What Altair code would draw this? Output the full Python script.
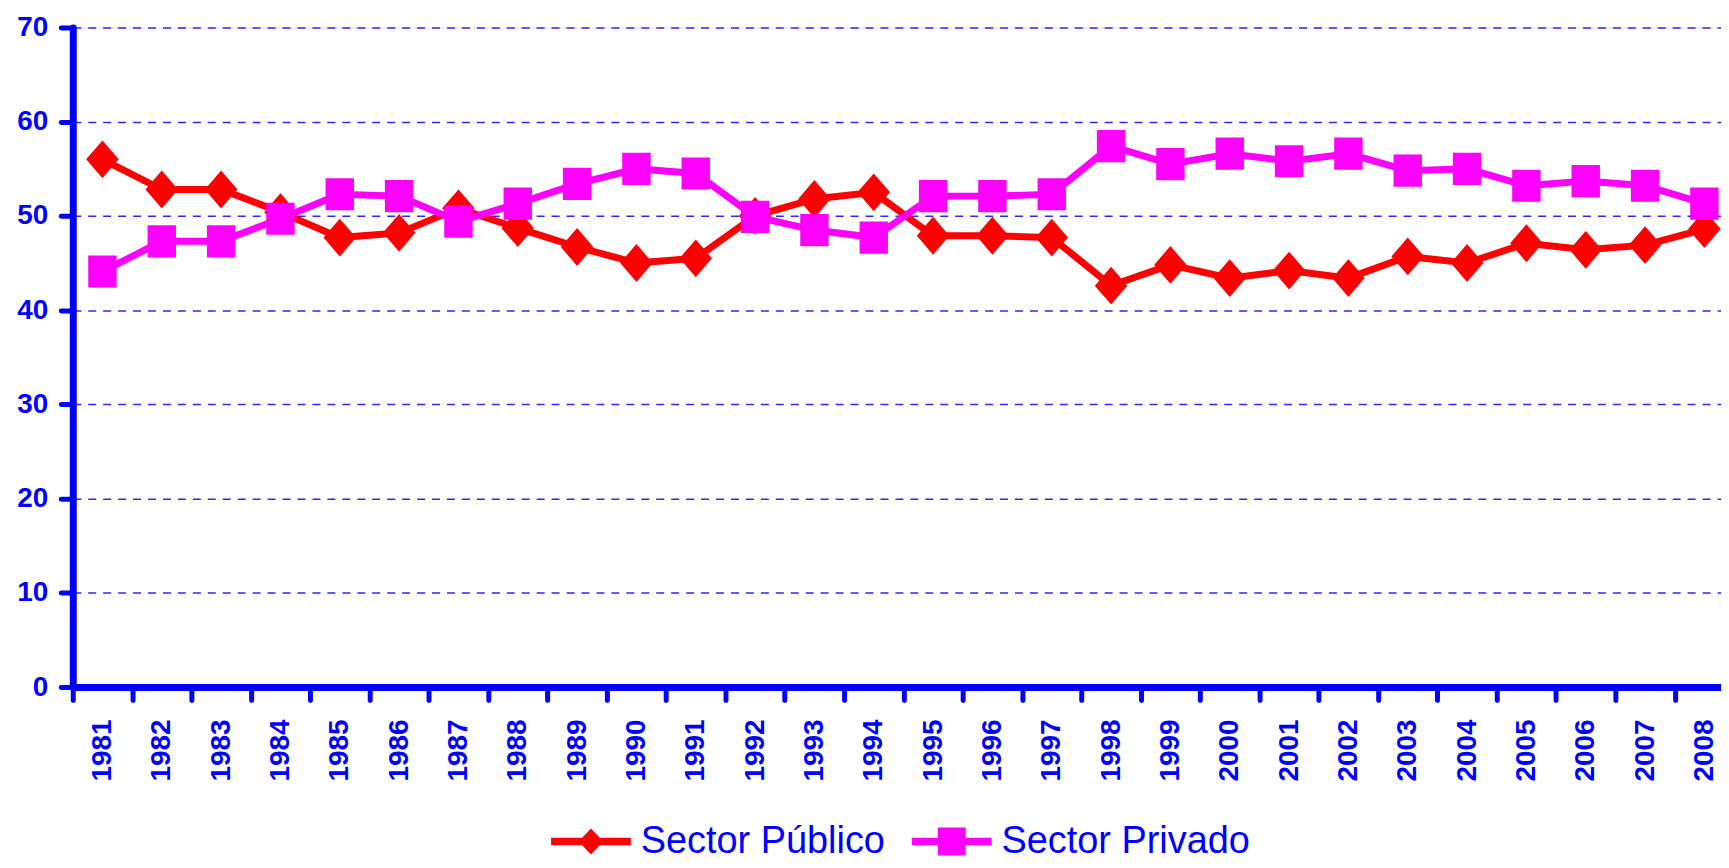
import altair as alt
import pandas as pd

years = list(range(1981, 2009))
publico = [56.0, 52.8, 52.8, 50.4, 47.7, 48.2, 50.8, 48.7, 46.7, 45.0,
           45.5, 50.0, 51.8, 52.5, 47.9, 47.9, 47.7, 42.6, 44.8, 43.4,
           44.2, 43.4, 45.7, 45.0, 47.1, 46.4, 46.9, 48.6]
privado = [44.1, 47.3, 47.3, 49.7, 52.3, 52.1, 49.4, 51.3, 53.4, 55.0,
           54.5, 49.9, 48.5, 47.7, 52.1, 52.1, 52.3, 57.4, 55.5, 56.6,
           55.8, 56.6, 54.8, 55.0, 53.2, 53.7, 53.2, 51.3]
series_names = ["Sector Público", "Sector Privado"]
series_colors = ["#FF0000", "#FF00FF"]
y_ticks = [0, 10, 20, 30, 40, 50, 60, 70]

BLUE = "#0000FF"
W = 1654
H = 662
x_min, x_max = 1980.5, 2008.28
step = W / (x_max - x_min)

diamond = "M0,-1L0.86,0L0,1L-0.86,0Z"
square = "M-0.75,-0.85H0.75V0.85H-0.75Z"
leg_diamond = "M-1,-0.095H-0.22L0,-0.325L0.22,-0.095H1V0.095H0.22L0,0.325L-0.22,0.095H-1Z"
leg_square = "M-1,-0.095H-0.35V-0.35H0.35V-0.095H1V0.095H0.35V0.35H-0.35V0.095H-1Z"

x_enc = alt.X(
    "Año:Q",
    scale=alt.Scale(domain=[x_min, x_max], nice=False, zero=False),
    axis=alt.Axis(
        title=None,
        values=years,
        format="d",
        grid=False,
        tickOffset=-step / 2,
        labelOffset=step / 2,
        labelAngle=-90,
        labelFont="Liberation Sans",
        labelFontWeight="bold",
        labelFontSize=28,
        labelColor=BLUE,
        labelPadding=19,
        labelOverlap=False,
        labelFlush=False,
        tickSize=13,
        tickWidth=5,
        tickColor=BLUE,
        tickCap="round",
        domainColor=BLUE,
        domainWidth=7,
        domainCap="round",
    ),
)
y_enc = alt.Y(
    "Valor:Q",
    scale=alt.Scale(domain=[0, 70], nice=False),
    axis=alt.Axis(
        title=None,
        values=y_ticks,
        grid=True,
        gridColor="#2A2AFF",
        gridWidth=1.5,
        gridDash=[8, 7],
        labelFont="Liberation Sans",
        labelFontWeight="bold",
        labelFontSize=28,
        labelColor=BLUE,
        labelPadding=13,
        tickSize=12,
        tickWidth=5,
        tickColor=BLUE,
        tickCap="round",
        domainColor=BLUE,
        domainWidth=7,
        domainCap="round",
    ),
)


def series_layers(name, values, col, shape, leg_shape, leg_x):
    d = pd.DataFrame({"Año": years, "Valor": values, "Serie": [name] * len(years)})
    legend = alt.Legend(
        title=None,
        orient="none",
        legendX=leg_x,
        legendY=777,
        direction="horizontal",
        symbolType=leg_shape,
        symbolSize=6400,
        symbolFillColor=col,
        symbolStrokeWidth=0,
        symbolOpacity=1,
        labelFont="Liberation Sans",
        labelFontSize=38,
        labelColor=BLUE,
        labelOffset=10,
        labelLimit=500,
        padding=0,
    )
    line = alt.Chart(d).mark_line(strokeWidth=7, color=col).encode(x=x_enc, y=y_enc)
    pts = alt.Chart(d).mark_point(filled=True, opacity=1, size=1444, shape=shape).encode(
        x=x_enc, y=y_enc,
        color=alt.Color("Serie:N", scale=alt.Scale(domain=[name], range=[col]), legend=legend),
    )
    return [line, pts]


layers = (series_layers(series_names[0], publico, series_colors[0], diamond, leg_diamond, 480)
          + series_layers(series_names[1], privado, series_colors[1], square, leg_square, 842))

chart = alt.layer(*layers).resolve_scale(color="independent").resolve_legend(
    color="independent"
).properties(
    width=W,
    height=H,
    autosize=alt.AutoSizeParams(type="none"),
    padding={"top": 18, "left": 65, "right": 0, "bottom": 172},
).configure_view(stroke=None).configure(background="white")

chart.save("out.html", embed_options={"renderer": "svg", "actions": False})
